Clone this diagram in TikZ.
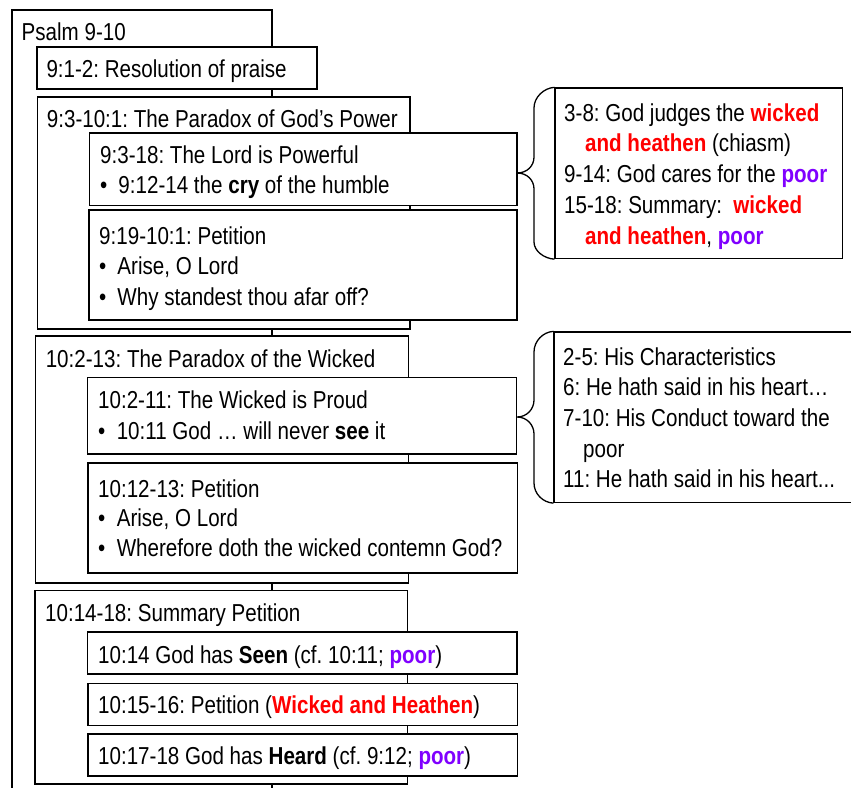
\documentclass[tikz,border=0pt]{standalone}
\usepackage{fontspec}
\setmainfont{Liberation Sans}[FakeStretch=0.84]
\usetikzlibrary{fit}
\frenchspacing
\definecolor{wred}{RGB}{255,0,0}
\definecolor{wpoor}{RGB}{128,0,255}
\newcommand\bul[1][18.3pt]{\makebox[#1][l]{•}}
\newcommand\rw[1]{\textbf{\color{wred}#1}}
\newcommand\pw[1]{\textbf{\color{wpoor}#1}}
\begin{document}
\begin{tikzpicture}[x=1pt,y=-1pt,
  box/.style={draw=black, line width=1.3pt, fill=white, inner sep=0pt},
  txt/.style={anchor=base west, inner sep=0pt, font=\fontsize{24.5}{30}\selectfont\frenchspacing},
  bracepath/.style={draw=black, line width=1.3pt}]
\useasboundingbox (0,0) rectangle (851,787);
\clip (0,0) rectangle (851,787);

% outer box
\node[box, fit={(12,10) (272,800)}] (psalm) {};
\node[txt] (tpsalm) at (21.5,40.7) {Psalm 9-10};

% 9:1-2
\node[box, fit={(37,47) (317,89)}] (b12) {};
\node[txt] (t12) at (46.3,77.3) {9:1-2: Resolution of praise};

% 9:3-10:1
\node[box, fit={(37.5,97) (410,329)}] (b3) {};
\node[txt] (t3) at (46.7,127.3) {9:3-10:1: The Paradox of God’s Power};
\node[box, fit={(89.5,133) (517,205.5)}] (b318) {};
\node[txt] (t318a) at (100,163.3) {9:3-18: The Lord is Powerful};
\node[txt] (t318b) at (100,193.3) {\bul 9:12-14 the \textbf{cry} of the humble};
\node[box, fit={(89,210) (517,320)}] (b19) {};
\node[txt] (t19a) at (99,244.3) {9:19-10:1: Petition};
\node[txt] (t19b) at (99,274.3) {\bul Arise, O Lord};
\node[txt] (t19c) at (99,305) {\bul Why standest thou afar off?};

% 10:2-13
\node[box, fit={(35.5,336) (408.5,583)}] (b2) {};
\node[txt] (t2) at (45.6,367.3) {10:2-13: The Paradox of the Wicked};
\node[box, fit={(87.5,377.5) (516.5,454)}] (b211) {};
\node[txt] (t211a) at (98,408.6) {10:2-11: The Wicked is Proud};
\node[txt] (t211b) at (98,439) {\bul[18.6pt]10:11 God … will never \textbf{see} it};
\node[box, fit={(88,463) (517.5,573)}] (b1213) {};
\node[txt] (t1213a) at (98,497.5) {10:12-13: Petition};
\node[txt] (t1213b) at (98,526.9) {\bul[18.6pt]Arise, O Lord};
\node[txt] (t1213c) at (98,556.6) {\bul[18.6pt]Wherefore doth the wicked contemn God?};

% 10:14-18
\node[box, fit={(35,590.5) (407.5,784)}] (b14) {};
\node[txt] (t14) at (45,621.9) {10:14-18: Summary Petition};
\node[box, fit={(87.5,632) (517,674)}] (b1014) {};
\node[txt] (t1014) at (98,663.1) {10:14 God has \textbf{Seen} (cf. 10:11; \pw{poor})};
\node[box, fit={(88,683.5) (517.5,725.5)}] (b1015) {};
\node[txt] (t1015) at (98,713.8) {10:15-16: Petition (\rw{Wicked and Heathen})};
\node[box, fit={(88,734) (517.5,776)}] (b1017) {};
\node[txt] (t1017) at (98,764.5) {10:17-18 God has \textbf{Heard} (cf. 9:12; \pw{poor})};

% right box 1
\node[box, fit={(555,88) (842.5,258.5)}] (r1) {};
\node[txt] (r1a) at (564,121.7) {3-8: God judges the \rw{wicked}};
\node[txt] (r1b) at (585,151.7) {\rw{and heathen} (chiasm)};
\node[txt] (r1c) at (564,182.3) {9-14: God cares for the \pw{poor}};
\node[txt] (r1d) at (564,213.3) {15-18: Summary:\ \ \rw{wicked}};
\node[txt] (r1e) at (585,244) {\rw{and heathen}, \pw{poor}};

% right box 2
\node[box, fit={(554,332) (870,502.5)}] (r2) {};
\node[txt] (r2a) at (563,365) {2-5: His Characteristics};
\node[txt] (r2b) at (563,395.3) {6: He hath said in his heart…};
\node[txt] (r2c) at (563,426.7) {7-10: His Conduct toward the};
\node[txt] (r2d) at (583,457) {poor};
\node[txt] (r2e) at (563,487.3) {11: He hath said in his heart...};

% braces
\draw[bracepath] (r1.north west) .. controls (544,88) and (534,97) .. (534,108)
  -- (534,157) .. controls (534,166) and (527,173) .. (517,173)
  .. controls (527,173) and (534,180) .. (534,189)
  -- (534,242) .. controls (534,251) and (544,258.5) .. (r1.south west);
\draw[bracepath] (r2.north west) .. controls (543,332) and (534,341) .. (534,352)
  -- (534,400) .. controls (534,409) and (527,417) .. (517,417)
  .. controls (527,417) and (534,425) .. (534,434)
  -- (534,483) .. controls (534,494) and (543,502.5) .. (r2.south west);
\end{tikzpicture}
\end{document}
